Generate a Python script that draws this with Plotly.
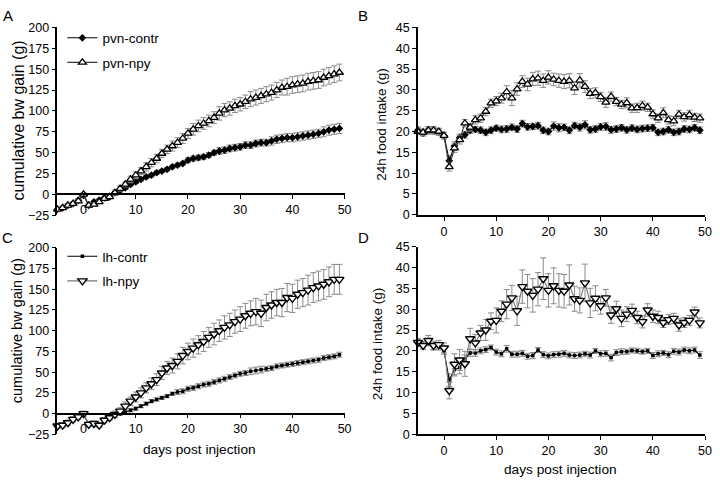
import plotly.graph_objects as go

days = list(range(-5, 50))

# Panel A: cumulative bw gain (g), PVN
pvn_contr = [-18, -16, -13, -11, -7, -1, -13, -9, -7, -4,
             -3, 2, 5, 8, 12, 15, 18, 21, 23, 26,
             28, 30, 33, 35, 37, 41, 43, 44, 45, 47,
             50, 52, 53, 55, 56, 57, 59, 59, 61, 62,
             62, 64, 66, 67, 68, 68, 69, 70, 71, 72,
             73, 75, 77, 78, 79]
pvn_contr_err = [2, 2, 2, 2, 2, 2, 2, 2, 2, 2,
                 2, 2, 2, 2, 2, 2, 2, 2, 2, 2,
                 2, 2, 2, 2, 2, 3, 3, 3, 3, 3,
                 3, 4, 4, 4, 4, 4, 4, 4, 4, 4,
                 4, 5, 5, 5, 5, 5, 5, 5, 5, 5,
                 5, 6, 6, 6, 6]
pvn_npy = [-18, -16, -13, -11, -8, 0, -13, -12, -9, -5,
           -3, 2, 7, 12, 18, 23, 28, 33, 38, 43,
           49, 54, 58, 62, 67, 73, 78, 82, 85, 88,
           92, 97, 101, 103, 106, 108, 111, 114, 116, 118,
           120, 122, 125, 128, 129, 131, 132, 133, 135, 136,
           137, 140, 142, 144, 146]
pvn_npy_err = [2, 2, 2, 2, 2, 2, 2, 2, 2, 2,
               2, 3, 3, 3, 4, 4, 4, 5, 5, 5,
               5, 5, 6, 6, 6, 6, 7, 7, 7, 7,
               7, 8, 8, 8, 8, 8, 8, 9, 9, 9,
               9, 9, 9, 9, 10, 10, 10, 10, 10, 10,
               10, 10, 10, 10, 10]

# Panel B: 24h food intake (g), PVN
pvn_contr_fi = [20.3, 19.6, 20.3, 20.2, 19.9, 19.0, 13.0, 16.5, 18.5, 19.2,
                20.3, 20.5, 20.3, 19.8, 20.3, 20.8, 20.5, 20.6, 21.0, 20.6,
                21.9, 21.1, 21.2, 21.4, 20.3, 20.0, 21.3, 20.9, 21.0, 20.3,
                21.4, 21.0, 21.6, 20.4, 20.6, 21.1, 21.2, 20.4, 20.6, 20.9,
                20.4, 20.8, 20.5, 20.7, 20.8, 20.9, 19.8, 20.0, 20.4, 19.8,
                20.0, 20.6, 20.5, 20.9, 20.3]
pvn_contr_fi_err = [0.8, 0.7, 0.8, 0.8, 0.8, 0.8, 1.2, 1.0, 0.9, 0.8,
                    0.8, 0.7, 0.8, 0.8, 0.8, 0.7, 0.8, 0.8, 0.8, 0.8,
                    0.8, 0.8, 0.7, 0.8, 0.8, 0.8, 1.0, 1.0, 0.8, 0.8,
                    0.8, 0.9, 1.0, 0.8, 0.8, 0.8, 0.9, 0.8, 0.8, 0.8,
                    0.8, 0.8, 0.8, 0.8, 0.8, 0.8, 0.8, 0.8, 0.8, 0.8,
                    0.8, 0.8, 0.8, 0.8, 0.8]
pvn_npy_fi = [20.0, 19.8, 20.3, 20.3, 20.0, 19.0, 11.5, 16.0, 18.0, 22.0,
              21.0, 22.8, 23.2, 24.8, 26.8, 27.3, 28.0, 29.5, 28.0, 30.2,
              32.0, 31.3, 32.6, 32.8, 32.2, 33.0, 32.5, 32.2, 32.0, 32.2,
              30.4, 32.3, 30.8, 29.1, 29.3, 28.3, 27.0, 28.4, 27.2, 26.5,
              26.9, 25.6, 25.7, 26.2, 25.8, 24.2, 23.2, 24.5, 22.8, 22.5,
              24.1, 23.5, 24.0, 23.4, 23.2]
pvn_npy_fi_err = [0.8, 0.8, 0.9, 0.9, 0.8, 0.8, 1.0, 1.0, 1.0, 0.9,
                  0.9, 1.0, 1.0, 1.0, 1.0, 1.1, 1.2, 1.5, 1.8, 1.5,
                  1.4, 1.5, 1.6, 1.7, 1.6, 1.6, 1.5, 1.6, 1.7, 1.7,
                  1.5, 1.6, 1.4, 1.2, 1.2, 1.1, 1.2, 1.1, 1.0, 1.0,
                  1.2, 1.0, 1.1, 1.1, 1.0, 1.0, 1.0, 1.2, 1.0, 1.1,
                  1.0, 1.0, 1.1, 1.0, 1.0]

# Panel C: cumulative bw gain (g), LH
lh_contr = [-15, -13, -10, -6, -3, -1, -13, -13, -14, -9,
            -5, -2, 0, 2, 4, 6, 9, 12, 15, 17,
            19, 21, 24, 26, 27, 30, 31, 33, 35, 36,
            38, 40, 42, 44, 46, 48, 49, 51, 52, 53,
            54, 55, 57, 58, 59, 60, 61, 62, 63, 64,
            65, 67, 68, 69, 71]
lh_contr_err = [2, 2, 2, 2, 2, 2, 2, 2, 2, 2,
                2, 2, 2, 2, 2, 2, 2, 2, 2, 2,
                2, 2, 2, 3, 3, 3, 3, 3, 3, 3,
                3, 3, 3, 3, 3, 3, 3, 4, 4, 4,
                3, 3, 3, 3, 3, 3, 3, 3, 3, 3,
                3, 3, 3, 3, 3]
lh_npy = [-15, -14, -11, -7, -4, 0, -13, -12, -14, -8,
          -5, -1, 3, 9, 15, 20, 25, 31, 36, 41,
          49, 55, 58, 63, 70, 75, 79, 83, 87, 92,
          96, 100, 104, 107, 111, 114, 118, 121, 123, 121,
          128, 131, 134, 134, 140, 139, 144, 146, 149, 152,
          154, 156, 159, 162, 162]
lh_npy_err = [3, 3, 3, 3, 3, 3, 3, 3, 3, 3,
              3, 4, 4, 5, 5, 6, 6, 6, 7, 7,
              8, 8, 9, 9, 10, 10, 11, 11, 12, 12,
              13, 13, 14, 14, 14, 15, 15, 15, 16, 16,
              16, 16, 16, 17, 17, 17, 17, 17, 18, 18,
              18, 18, 18, 18, 18]

# Panel D: 24h food intake (g), LH
lh_contr_fi = [22.0, 21.5, 22.0, 21.0, 21.0, 20.0, 13.0, 15.5, 16.0, 18.0,
               19.5, 19.5, 20.0, 20.3, 20.8, 19.7, 19.3, 20.5, 19.2, 19.2,
               19.4, 18.7, 18.9, 20.2, 19.1, 18.8, 19.1, 19.2, 19.4, 19.0,
               18.9, 19.0, 19.3, 19.0, 20.0, 19.3, 19.4, 18.4, 19.6, 19.8,
               19.8, 20.1, 20.0, 19.8, 20.0, 18.9, 19.3, 19.5, 19.1, 19.9,
               19.7, 20.2, 20.0, 20.2, 19.0]
lh_contr_fi_err = [0.8, 0.8, 0.8, 0.8, 0.8, 0.8, 1.5, 1.5, 1.5, 1.0,
                   0.8, 0.8, 0.7, 0.7, 0.6, 0.7, 0.7, 0.8, 0.7, 0.7,
                   0.7, 0.7, 0.7, 0.6, 0.7, 0.7, 0.7, 0.7, 0.7, 0.7,
                   0.7, 0.7, 0.6, 0.7, 0.6, 0.7, 0.7, 0.8, 0.7, 0.7,
                   0.6, 0.6, 0.6, 0.6, 0.6, 0.7, 0.7, 0.6, 0.7, 0.7,
                   0.7, 0.7, 0.7, 0.7, 0.8]
lh_npy_fi = [22.0, 21.3, 22.5, 21.3, 21.5, 20.7, 10.5, 16.8, 17.8, 16.9,
             22.9, 21.9, 24.3, 25.0, 27.1, 27.3, 29.5, 31.2, 32.7, 29.6,
             35.4, 34.3, 33.3, 34.8, 37.3, 34.5, 35.6, 34.5, 34.3, 35.8,
             32.5, 32.1, 36.3, 31.5, 32.6, 30.8, 32.7, 28.6, 30.1, 27.8,
             28.8, 29.7, 28.0, 27.0, 29.8, 28.3, 28.0, 26.8, 27.5, 27.8,
             26.2, 26.8, 27.3, 29.3, 26.7]
lh_npy_fi_err = [1.0, 1.0, 1.2, 1.0, 1.0, 1.2, 2.0, 2.5, 2.5, 3.0,
                 2.5, 2.0, 1.8, 2.5, 2.0, 3.0, 2.5, 3.5, 3.0, 3.5,
                 4.0, 4.0, 4.0, 4.0, 5.0, 4.0, 4.3, 4.0, 4.0, 4.8,
                 3.0, 3.0, 4.5, 3.5, 3.0, 2.0, 2.0, 2.0, 1.8, 2.0,
                 1.8, 1.5, 1.5, 1.5, 1.5, 1.5, 1.5, 1.2, 1.2, 1.2,
                 1.5, 1.2, 1.2, 1.2, 1.2]

bw_ticks = [-25, 0, 25, 50, 75, 100, 125, 150, 175, 200]
fi_ticks = [0, 5, 10, 15, 20, 25, 30, 35, 40, 45]
day_ticks = [0, 10, 20, 30, 40, 50]

W, H = 720, 485
FONT = "Liberation Sans, Arial, sans-serif"
ERRC = "#8a8a8a"


def px(x):
    return x / W


def py(y):
    return 1 - y / H


fig = go.Figure()


def add(xa, ya, y, err, name, symbol, size, fill, lcolor, lwidth_m, legend, show, group):
    fig.add_trace(go.Scatter(
        x=days, y=y, mode="lines+markers", name=name,
        xaxis=xa, yaxis=ya, cliponaxis=False,
        line=dict(color=lcolor, width=1.1),
        marker=dict(symbol=symbol, size=size, color=fill,
                    line=dict(color="black", width=lwidth_m)),
        error_y=dict(type="data", array=err, color=ERRC, thickness=1, width=3),
        showlegend=show, legend=legend, legendgroup=group,
    ))


# A
add("x", "y", pvn_contr, pvn_contr_err, "pvn-contr", "diamond", 6, "black", "black", 0, "legend", True, "a1")
add("x", "y", pvn_npy, pvn_npy_err, "pvn-npy", "triangle-up", 7, "white", "#333333", 1.3, "legend", True, "a2")
# B
add("x2", "y2", pvn_contr_fi, pvn_contr_fi_err, "pvn-contr", "diamond", 6, "black", "black", 0, "legend", False, "a1")
add("x2", "y2", pvn_npy_fi, pvn_npy_fi_err, "pvn-npy", "triangle-up", 7, "white", "#333333", 1.3, "legend", False, "a2")
# C
add("x3", "y3", lh_contr, lh_contr_err, "lh-contr", "square", 3.5, "black", "black", 0, "legend2", True, "c1")
add("x3", "y3", lh_npy, lh_npy_err, "lh-npy", "triangle-down", 8, "white", "#777777", 1.4, "legend2", True, "c2")
# D
add("x4", "y4", lh_contr_fi, lh_contr_fi_err, "lh-contr", "square", 3.5, "black", "black", 0, "legend2", False, "c1")
add("x4", "y4", lh_npy_fi, lh_npy_fi_err, "lh-npy", "triangle-down", 8, "white", "#777777", 1.4, "legend2", False, "c2")

axis_common = dict(showgrid=False, zeroline=False, showline=True, linecolor="black",
                   linewidth=1.5, ticks="outside", ticklen=4, tickwidth=1.3,
                   tickcolor="black", tickfont=dict(size=12.5, color="black", family=FONT))

# domains (pixel-derived)
xdomL = [px(58), px(348)]
xdomR = [px(422), px(712)]
ydomA = [py(214.5), py(21)]
ydomB = [py(214), py(21)]
ydomC = [py(440), py(248)]
ydomD = [py(440), py(246.7)]


def zero_pos(dom, lo, hi):
    return dom[0] + (0 - lo) / (hi - lo) * (dom[1] - dom[0])


fig.update_layout(
    width=W, height=H, margin=dict(l=0, r=0, t=0, b=0),
    paper_bgcolor="white", plot_bgcolor="white",
    font=dict(family=FONT, color="black"),
    xaxis=dict(axis_common, domain=xdomL, range=[-5, 50], tickvals=day_ticks,
               anchor="free", position=zero_pos(ydomA, -25, 200)),
    yaxis=dict(axis_common, domain=ydomA, range=[-25, 200], tickvals=bw_ticks,
               anchor="x"),
    xaxis2=dict(axis_common, domain=xdomR, range=[-5, 50], tickvals=day_ticks, anchor="y2"),
    yaxis2=dict(axis_common, domain=ydomB, range=[0, 45], tickvals=fi_ticks, anchor="x2"),
    xaxis3=dict(axis_common, domain=xdomL, range=[-5, 50], tickvals=day_ticks,
                anchor="free", position=zero_pos(ydomC, -25, 200)),
    yaxis3=dict(axis_common, domain=ydomC, range=[-25, 200], tickvals=bw_ticks, anchor="x3"),
    xaxis4=dict(axis_common, domain=xdomR, range=[-5, 50], tickvals=day_ticks, anchor="y4"),
    yaxis4=dict(axis_common, domain=ydomD, range=[0, 45], tickvals=fi_ticks, anchor="x4"),
    legend=dict(x=px(63), y=py(16), xanchor="left", yanchor="top",
                bgcolor="rgba(0,0,0,0)", font=dict(size=13.5, family=FONT),
                tracegroupgap=4, itemwidth=30),
    legend2=dict(x=px(63), y=py(241), xanchor="left", yanchor="top",
                 bgcolor="rgba(0,0,0,0)", font=dict(size=13.5, family=FONT),
                 tracegroupgap=4, itemwidth=30),
)

ann = [
    dict(text="A", x=px(8), y=py(9), font=dict(size=15)),
    dict(text="B", x=px(367), y=py(9), font=dict(size=15)),
    dict(text="C", x=px(8), y=py(237), font=dict(size=15)),
    dict(text="D", x=px(367), y=py(237), font=dict(size=15)),
    dict(text="cumulative bw gain (g)", x=px(19), y=py(117), textangle=-90, font=dict(size=16)),
    dict(text="24h food intake (g)", x=px(385), y=py(121), textangle=-90, font=dict(size=13.5)),
    dict(text="cumulative bw gain (g)", x=px(18), y=py(333), textangle=-90, font=dict(size=14.5)),
    dict(text="24h food intake (g)", x=px(382), y=py(347), textangle=-90, font=dict(size=13.5)),
    dict(text="days post injection", x=px(201), y=py(456), font=dict(size=13.7)),
    dict(text="days post injection", x=px(566), y=py(476), font=dict(size=13.7)),
]
for a in ann:
    a.update(xref="paper", yref="paper", showarrow=False, xanchor="center", yanchor="middle")
    a["font"].update(family=FONT, color="black")
fig.update_layout(annotations=ann)

fig.write_html("out.html", config={"displayModeBar": False},
               post_script="document.body.style.margin='0';document.body.style.overflow='hidden';")
